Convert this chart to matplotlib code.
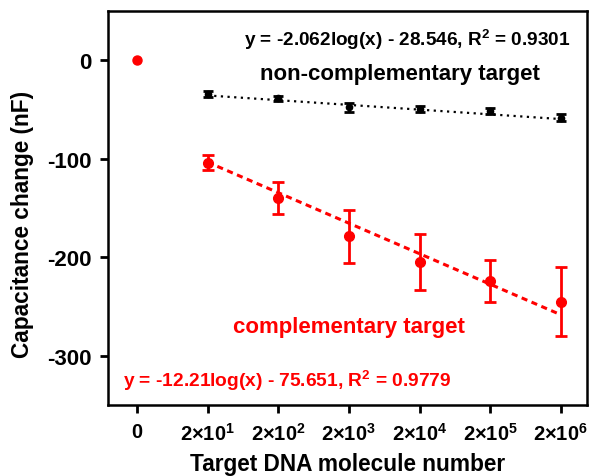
import matplotlib
matplotlib.use("Agg")
import matplotlib.pyplot as plt
import numpy as np

plt.rcParams["font.family"] = ["Liberation Sans", "DejaVu Sans"]
plt.rcParams["font.weight"] = "bold"
plt.rcParams["axes.labelweight"] = "bold"
plt.rcParams["axes.unicode_minus"] = False
plt.rcParams["mathtext.fontset"] = "custom"
plt.rcParams["mathtext.rm"] = "Liberation Sans:bold"
plt.rcParams["mathtext.bf"] = "Liberation Sans:bold"
plt.rcParams["mathtext.default"] = "bf"

# data
tick_labels = ["0", "2×10$^{1}$", "2×10$^{2}$", "2×10$^{3}$",
               "2×10$^{4}$", "2×10$^{5}$", "2×10$^{6}$"]
blank_value = 0.0

comp_y = [-104, -140, -179, -205, -224, -245]
comp_err = [8, 16, 27, 28.5, 21, 35.5]
comp_fit = (-31.0, -72.5)  # slope, intercept per tick step

noncomp_y = [-34.5, -38.5, -48, -50, -51.5, -58.5]
noncomp_err = [3, 2.5, 4.5, 3, 3, 3.5]
noncomp_fit = (-4.8, -31.0)

red = "#ff0000"
idx = np.arange(1, 7)

fig = plt.figure(figsize=(5.96, 4.77), dpi=100)
ax = fig.add_axes([0.181, 0.149, 0.804, 0.826])

# blank point
ax.plot([0], [blank_value], "o", color=red, markersize=6.5)

# complementary target
ax.errorbar(idx, comp_y, yerr=comp_err, fmt="o", color=red, markersize=7,
            elinewidth=2, capsize=4.5, capthick=2)
xf = np.array([1, 6])
ax.plot(xf, comp_fit[0] * xf + comp_fit[1], color=red, lw=2.2,
        linestyle=(0, (2, 1.5)))

# non-complementary target
ax.errorbar(idx, noncomp_y, yerr=noncomp_err, fmt="o", color="black",
            markersize=4.5, elinewidth=2, capsize=3.5, capthick=2)
ax.plot(xf, noncomp_fit[0] * xf + noncomp_fit[1], color="black", lw=1.6,
        linestyle=(0, (1, 2)))

ax.text(0.624, 0.929, "y = -2.062log(x) - 28.546, R$^{2}$ = 0.9301",
        transform=ax.transAxes, ha="center", va="center", fontsize=13.7)
ax.text(0.61, 0.84, "non-complementary target", transform=ax.transAxes,
        ha="center", va="center", fontsize=16)
ax.text(0.503, 0.20, "complementary target", transform=ax.transAxes,
        ha="center", va="center", fontsize=16, color=red)
ax.text(0.031, 0.063, "y = -12.21log(x) - 75.651, R$^{2}$ = 0.9779",
        transform=ax.transAxes, ha="left", va="center", fontsize=13.8,
        color=red)

ax.set_xlim(-0.41, 6.37)
ax.set_ylim(-350, 50)
ax.set_xticks(np.arange(7))
ax.set_xticklabels(tick_labels)
ax.set_yticks([0, -100, -200, -300])

for s in ax.spines.values():
    s.set_linewidth(1.8)
ax.tick_params(direction="out", length=6, width=2, labelsize=16, pad=6)
ax.tick_params(axis="x", labelsize=14.5)

ax.set_xlabel("Target DNA molecule number", fontsize=16.3, labelpad=6)
ax.set_ylabel("Capacitance change (nF)", fontsize=16.3)
ax.yaxis.set_label_coords(-0.155, 0.46)

fig.savefig("out.png", dpi=100)
